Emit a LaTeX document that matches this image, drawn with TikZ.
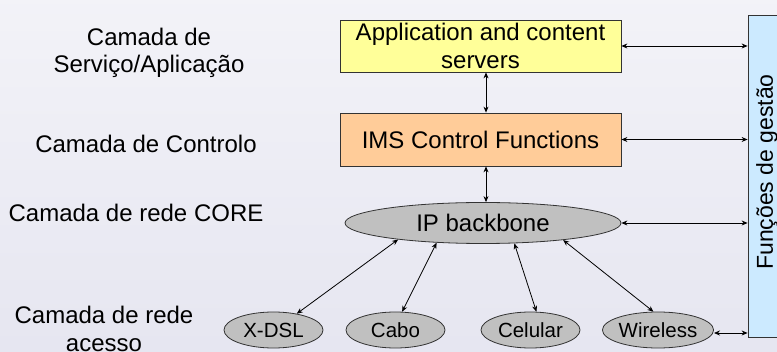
\documentclass[tikz,border=0pt]{standalone}
\usepackage{fontspec}
\setmainfont{Liberation Sans}
\usetikzlibrary{arrows.meta,shapes.geometric}
\definecolor{bgtop}{RGB}{228,228,234}
\definecolor{bgwhite}{RGB}{250,250,252}
\definecolor{bgmid}{RGB}{222,222,236}
\definecolor{bgbot}{RGB}{120,120,170}
\definecolor{appfill}{RGB}{255,255,153}
\definecolor{ctlfill}{RGB}{255,204,153}
\definecolor{ellfill}{RGB}{192,192,192}
\definecolor{mgmtfill}{RGB}{204,234,255}
\pgfdeclareverticalshading{bgshade}{777bp}{color(0bp)=(bgbot); color(120bp)=(bgmid); color(230bp)=(bgwhite); color(260bp)=(bgwhite); color(352bp)=(bgtop)}
\tikzset{
  big/.style={font=\fontsize{24}{27.6}\selectfont},
  small/.style={font=\fontsize{20.5}{24}\selectfont},
  layerbox/.style={draw=black!80, line width=0.8pt, inner sep=0pt, minimum width=281pt, align=center, big},
  ell/.style={ellipse, draw=black!80, line width=0.8pt, fill=ellfill, inner sep=0pt},
  lbl/.style={align=center, big, text=black},
  link/.style={{Stealth[length=6pt,width=5pt]}-{Stealth[length=6pt,width=5pt]}, line width=0.8pt, black}
}
\begin{document}
\begin{tikzpicture}[x=1pt,y=-1pt]
\useasboundingbox (0,0) rectangle (777,352);
\clip (0,0) rectangle (777,352);
\fill[shading=bgshade] (0,0) rectangle (777,352);

% left labels
\node[lbl] (l1) at (149,53) {Camada de\\Serviço/Aplicação};
\node[lbl] (l2) at (146,144) {Camada de Controlo};
\node[lbl] (l3) at (136,213) {Camada de rede CORE};
\node[lbl] (l4) at (104,329) {Camada de rede\\acesso};

% boxes
\node[layerbox, fill=appfill, minimum height=52pt] (app) at (480.5,46) {Application and content\\servers};
\node[layerbox, fill=ctlfill, minimum height=53pt] (ctl) at (480.5,139.5) {IMS Control Functions};
\node[ell, big, minimum width=276pt, minimum height=41pt] (ip) at (483,223) {IP backbone};

\node[ell, small, minimum width=99pt, minimum height=36pt] (xdsl) at (273.5,330) {X-DSL};
\node[ell, small, minimum width=99pt, minimum height=36pt] (cabo) at (395.5,330) {Cabo};
\node[ell, small, minimum width=99pt, minimum height=36pt] (cel) at (530.5,330) {Celular};
\node[ell, small, minimum width=100pt, minimum height=36pt] (wls) at (658,330) {Wireless};

\node[draw=black!80, line width=0.8pt, fill=mgmtfill, minimum width=38pt, minimum height=322pt, inner sep=0pt] (mgmt) at (767,176) {};
\node[rotate=90, font=\fontsize{23}{27}\selectfont] (mgmttext) at (767,172) {Funções de gestão};

% vertical links
\draw[link] ([xshift=5.5pt]app.south) -- ([xshift=5.5pt]ctl.north);
\draw[link] ([xshift=5.5pt]ctl.south) -- ([xshift=3pt]ip.north);

% access links
\draw[link] (ip.191) -- (xdsl.35);
\draw[link] (ip.203) -- (cabo.70);
\draw[link] (ip.327) -- (cel.72);
\draw[link] (ip.348) -- (wls.104);

% management links
\draw[link] (app.east) -- (app.east -| mgmt.west);
\draw[link] (ctl.east) -- (ctl.east -| mgmt.west);
\draw[link] (ip.east) -- (ip.east -| mgmt.west);
\draw[link] ([yshift=-3pt]wls.east) -- ([yshift=-3pt]wls.east -| mgmt.west);
\end{tikzpicture}
\end{document}
